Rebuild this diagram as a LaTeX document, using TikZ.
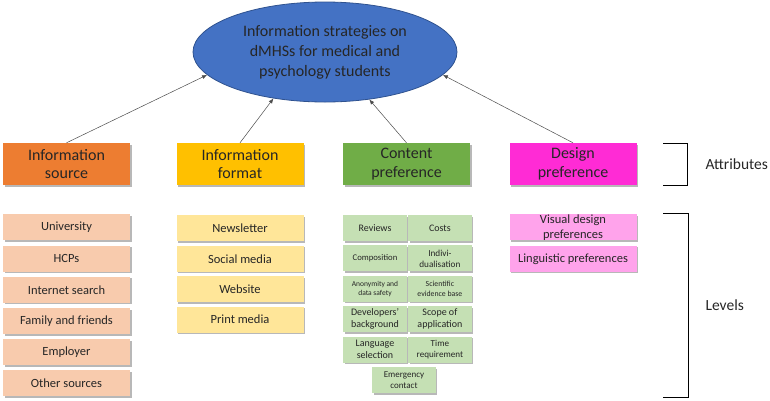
\documentclass[tikz,border=0pt]{standalone}
\usepackage{fontspec}
\setmainfont{Carlito}
\usetikzlibrary{positioning,shapes.geometric,shadows,arrows.meta}

\definecolor{goalblue}{HTML}{4472C4}
\definecolor{goalline}{HTML}{2F528F}
\definecolor{srcdark}{HTML}{ED7D31}
\definecolor{srclight}{HTML}{F8CBAD}
\definecolor{fmtdark}{HTML}{FFC000}
\definecolor{fmtlight}{HTML}{FFE699}
\definecolor{cntdark}{HTML}{70AD47}
\definecolor{cntlight}{HTML}{C5E0B4}
\definecolor{dsgdark}{HTML}{FF2BD5}
\definecolor{dsglight}{HTML}{FFA3EB}
\definecolor{txt}{HTML}{262626}

\tikzset{
  box/.style={text=txt, align=center, inner sep=0pt,
    drop shadow={shadow xshift=1.5pt, shadow yshift=-1.5pt, opacity=0.28, fill=black}},
  attr/.style={box, minimum width=127pt, minimum height=42pt, font=\fontsize{16}{18.5}\selectfont},
  level/.style={box, minimum width=127pt, minimum height=26pt, font=\fontsize{12.5}{15}\selectfont},
  cell/.style={box, fill=cntlight, minimum width=63.5pt, minimum height=26pt},
  link/.style={-{Latex[length=5pt,width=4pt]}, draw=gray!60!black, line width=0.5pt},
  bracket/.style={line width=0.9pt},
}

\begin{document}
\begin{tikzpicture}[x=1pt,y=-1pt]
    \useasboundingbox (0,0) rectangle (770,400);

    \node[ellipse, draw=goalline, fill=goalblue, line width=0.8pt, minimum width=264pt,
      minimum height=100pt, inner sep=0pt, align=center, text=txt,
      font=\fontsize{16}{20}\selectfont] (goal) at (325,52)
      {Information strategies on\\dMHSs for medical and\\psychology students};

    \node[attr, fill=srcdark] (src) at (66.5,164) {Information\\source};
    \node[attr, fill=fmtdark] (fmt) at (240,164) {Information\\format};
    \node[attr, fill=cntdark] (cnt) at (406.5,164) {Content\\preference};
    \node[attr, fill=dsgdark] (dsg) at (573,164) {Design\\preference};

    \node[level, fill=srclight, below=29pt of src] (uni) {University};
    \node[level, fill=srclight, below=4.8pt of uni] (hcp) {HCPs};
    \node[level, fill=srclight, below=4.8pt of hcp] (web) {Internet search};
    \node[level, fill=srclight, below=4.8pt of web] (fam) {Family and friends};
    \node[level, fill=srclight, below=4.8pt of fam] (emp) {Employer};
    \node[level, fill=srclight, below=4.8pt of emp] (oth) {Other sources};

    \node[level, fill=fmtlight, below=30pt of fmt] (news) {Newsletter};
    \node[level, fill=fmtlight, below=4pt of news] (social) {Social media};
    \node[level, fill=fmtlight, below=4pt of social] (site) {Website};
    \node[level, fill=fmtlight, below=4pt of site] (print) {Print media};

    \node[cell, font=\fontsize{10}{12}\selectfont] (rev) at (375,228) {Reviews};
    \node[cell, font=\fontsize{10}{12}\selectfont, right=1pt of rev] (cost) {Costs};
    \node[cell, font=\fontsize{8.7}{10.5}\selectfont, below=4pt of rev] (comp) {Composition};
    \node[cell, font=\fontsize{9.2}{11}\selectfont, right=1pt of comp] (indiv) {Indivi-\\dualisation};
    \node[cell, font=\fontsize{7.5}{9.5}\selectfont, below=4pt of comp] (anon) {Anonymity and\\data safety};
    \node[cell, font=\fontsize{7.8}{9.5}\selectfont, right=1pt of anon] (sci) {Scientific\\evidence base};
    \node[cell, font=\fontsize{10}{12}\selectfont, below=4pt of anon] (dev) {Developers'\\background};
    \node[cell, font=\fontsize{10}{12}\selectfont, right=1pt of dev] (scope) {Scope of\\application};
    \node[cell, font=\fontsize{10}{12}\selectfont, below=4pt of dev] (lang) {Language\\selection};
    \node[cell, font=\fontsize{9.1}{11}\selectfont, right=1pt of lang] (time) {Time\\requirement};
    \node[cell, font=\fontsize{9}{10.7}\selectfont, below=4pt of lang.south east, xshift=-3pt] (emg) {Emergency\\contact};

    \node[level, fill=dsglight, below=29pt of dsg] (vis) {Visual design\\preferences};
    \node[level, fill=dsglight, below=5pt of vis] (ling) {Linguistic preferences};

    \draw[link] (src.north) -- (goal.191);
    \draw[link] (fmt.north) -- (goal.222);
    \draw[link] (cnt.north) -- (goal.313);
    \draw[link] (dsg.north) -- (goal.349);

    \draw[bracket] (663,143) -- (687,143) -- (687,185) -- (663,185);
    \draw[bracket] (663,213) -- (688,213) -- (688,397) -- (663,397);
    \node[anchor=west, text=txt, font=\fontsize{15.5}{18}\selectfont] (attrlab) at (702,164) {Attributes};
    \node[anchor=west, text=txt, font=\fontsize{15.5}{18}\selectfont] (levlab) at (702,305) {Levels};
\end{tikzpicture}
\end{document}
